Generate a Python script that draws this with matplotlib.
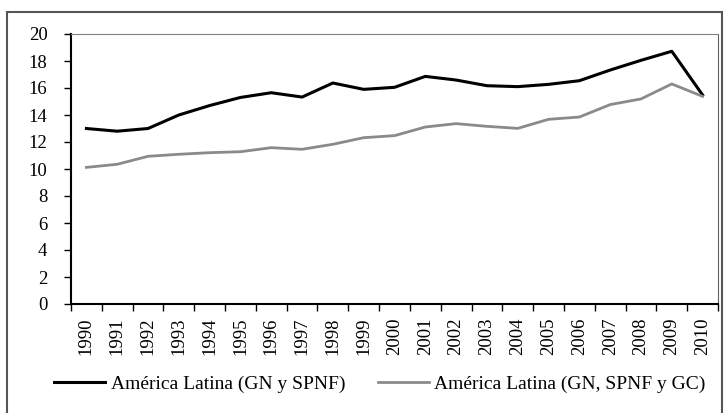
import matplotlib.pyplot as plt
from matplotlib.patches import Rectangle

# data (% of GDP)
years = [str(y) for y in range(1990, 2011)]
gn_spnf = [13.0, 12.8, 13.0, 14.0, 14.7, 15.3, 15.65, 15.33, 16.37, 15.9, 16.05,
           16.86, 16.59, 16.17, 16.1, 16.27, 16.54, 17.33, 18.05, 18.72, 15.48]
gn_spnf_gc = [10.12, 10.35, 10.94, 11.09, 11.21, 11.28, 11.58, 11.46, 11.83, 12.32, 12.47,
              13.11, 13.36, 13.16, 13.01, 13.68, 13.85, 14.77, 15.19, 16.3, 15.38]
labels = ["América Latina (GN y SPNF)", "América Latina (GN, SPNF y GC)"]

plt.rcParams['font.family'] = ['Liberation Serif', 'DejaVu Serif']

fig = plt.figure(figsize=(7.27, 4.13), dpi=100)
ax = fig.add_axes([71 / 727, 1 - 304 / 413, 647 / 727, 270 / 413])

x = list(range(len(years)))
ax.plot(x, gn_spnf, color='black', lw=2.2, label=labels[0])
ax.plot(x, gn_spnf_gc, color='#8a8a8a', lw=2.0, label=labels[1])

ax.set_xlim(-0.5, len(years) - 0.5)
ax.set_ylim(0, 20)
ax.set_yticks(range(0, 21, 2))
ax.tick_params(axis='y', labelsize=13.5, length=5, width=1, direction='out', pad=12)

# category axis: ticks between the years, labels in the middle
ax.set_xticks([i - 0.5 for i in range(len(years) + 1)])
ax.set_xticklabels([])
ax.set_xticks(x, minor=True)
ax.set_xticklabels(years, minor=True, rotation=90, fontsize=13.5)
ax.tick_params(axis='x', which='major', length=5, width=1, direction='out')
ax.tick_params(axis='x', which='minor', length=0, pad=10)

ax.spines['left'].set_linewidth(1.5)
ax.spines['bottom'].set_linewidth(1.5)
ax.spines['top'].set_color('#808080')
ax.spines['right'].set_color('#606060')

fig.legend(loc='center', bbox_to_anchor=(380 / 727, 1 - 384 / 413), ncol=2,
           frameon=False, fontsize=14, handlelength=2.6, handletextpad=0.3,
           columnspacing=1.7)

# outer frame around the figure
fig.patches.append(Rectangle((7 / 727, -0.05), 715 / 727, 1.05 - 12 / 413,
                             transform=fig.transFigure, fill=False,
                             edgecolor='#555555', lw=1.5))

fig.savefig("out.png", dpi=100)
